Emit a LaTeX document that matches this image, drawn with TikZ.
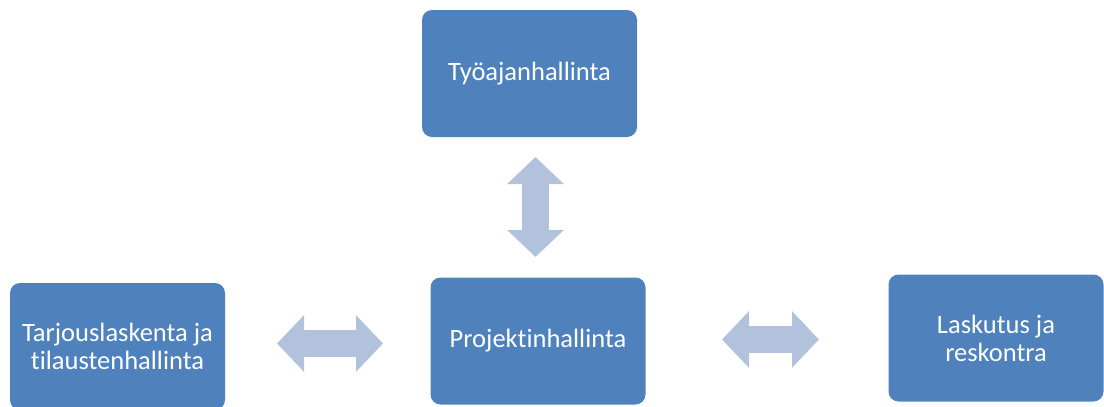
\documentclass[tikz,border=0pt]{standalone}
\usepackage{fontspec}
\setmainfont{Carlito}[Ligatures=NoCommon]
\usetikzlibrary{arrows.meta}
\definecolor{boxblue}{RGB}{79,129,189}
\definecolor{arrowblue}{RGB}{179,194,220}
\tikzset{
  block/.style={fill=boxblue, rounded corners=10pt, text=white, align=center,
    minimum width=215pt, minimum height=127pt, inner sep=0pt,
    font=\fontsize{26.5}{28}\selectfont},
  dblarrow/.style={draw=arrowblue, line width=27pt,
    {Triangle[length=27pt,width=55pt]}-{Triangle[length=27pt,width=55pt]}}
}

\begin{document}
\begin{tikzpicture}[x=1pt, y=-1pt]
  \useasboundingbox (0,0) rectangle (1104,407);
  \node[block] (tyo)     at (529.5, 73.5) {Työajanhallinta};
  \node[block] (proj)    at (538, 341)    {Projektinhallinta};
  \node[block] (tarjous) at (117.5, 346.5) {Tarjouslaskenta ja\\tilaustenhallinta};
  \node[block] (lasku)   at (996, 338)    {Laskutus ja\\reskontra};
  \coordinate (v1) at (535.5, 157);
  \coordinate (v2) at (535.5, 257);
  \coordinate (l1) at (277, 343.5);
  \coordinate (l2) at (383, 343.5);
  \coordinate (r1) at (722, 339.5);
  \coordinate (r2) at (819, 339.5);
  \draw[dblarrow] (v1) -- (v2);
  \draw[dblarrow] (l1) -- (l2);
  \draw[dblarrow] (r1) -- (r2);
\end{tikzpicture}
\end{document}
